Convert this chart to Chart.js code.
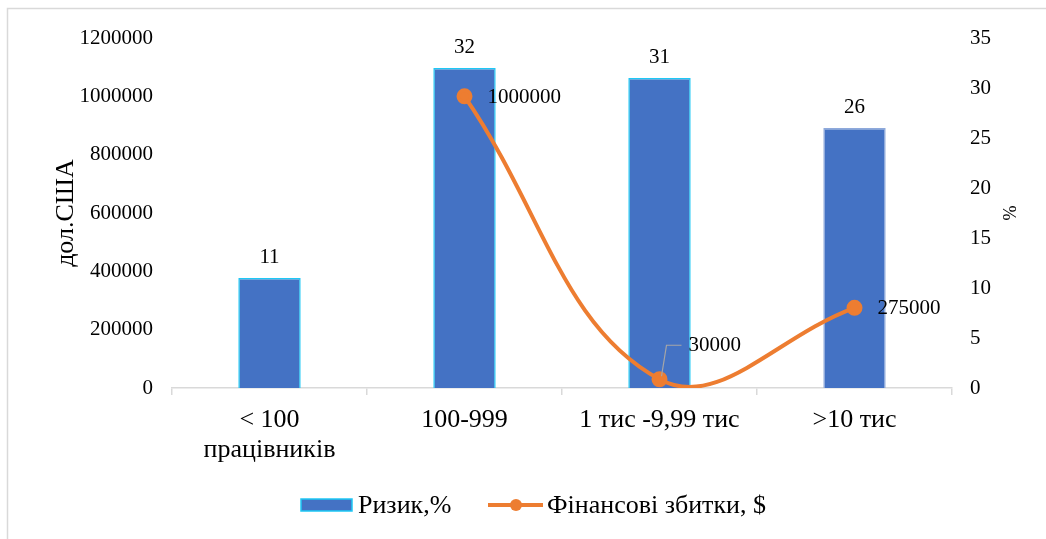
<!DOCTYPE html>
<html>
<head>
<meta charset="utf-8">
<script src="https://cdn.jsdelivr.net/npm/chart.js@4/dist/chart.umd.min.js"></script>
<style>
  html, body { margin: 0; padding: 0; background: #fff; }
  #wrap { width: 1046px; height: 539px; position: relative; }
</style>
</head>
<body>
<div id="wrap"><canvas id="c"></canvas></div>
<script>
// Company size groups
const categories = [['< 100', 'працівників'], '100-999', '1 тис -9,99 тис', '>10 тис'];
// Share of companies at risk, %
const riskPercent = [11, 32, 31, 26];
// Financial losses, USD (no value for the smallest group)
const financialLoss = [null, 1000000, 30000, 275000];
// Axis ranges: min, max, step
const lossAxisRange = [0, 1200000, 200000];
const percentAxisRange = [0, 35, 5];

const SERIF = '"Liberation Serif", "Times New Roman", serif';
const BAR_FILL = '#4472C4';
const BAR_EDGES = ['#1EC8F5', '#1EC8F5', '#1EC8F5', '#8EA9DB'];
const LINE_COLOR = '#ED7D31';

// white background and the light frame of the chart
const frame = {
  id: 'frame',
  beforeDraw(chart) {
    const ctx = chart.ctx;
    ctx.save();
    ctx.fillStyle = '#fff';
    ctx.fillRect(0, 0, chart.width, chart.height);
    ctx.strokeStyle = '#D9D9D9';
    ctx.lineWidth = 1.5;
    ctx.beginPath();
    ctx.moveTo(7.5, chart.height + 2);
    ctx.lineTo(7.5, 8.5);
    ctx.lineTo(chart.width + 2, 8.5);
    ctx.stroke();
    ctx.restore();
  }
};

// value labels above bars and beside line points
const valueLabels = {
  id: 'valueLabels',
  afterDatasetsDraw(chart) {
    const ctx = chart.ctx;
    ctx.save();
    ctx.font = '21px ' + SERIF;
    ctx.fillStyle = '#000';
    chart.data.datasets.forEach((ds, di) => {
      const meta = chart.getDatasetMeta(di);
      meta.data.forEach((el, i) => {
        const v = ds.data[i];
        if (v == null) return;
        if (ds.type === 'bar') {
          ctx.textAlign = 'center';
          ctx.textBaseline = 'bottom';
          ctx.fillText(String(v), el.x, el.y - 10);
        } else {
          ctx.textAlign = 'left';
          ctx.textBaseline = 'middle';
          if (i === 2) {
            // label lifted off the point with a leader line
            ctx.save();
            ctx.strokeStyle = '#A6A6A6';
            ctx.lineWidth = 1.2;
            ctx.beginPath();
            ctx.moveTo(el.x + 2, el.y - 3);
            ctx.lineTo(el.x + 7, el.y - 34);
            ctx.lineTo(el.x + 22, el.y - 34);
            ctx.stroke();
            ctx.restore();
            ctx.fillText(String(v), el.x + 29, el.y - 34);
          } else {
            ctx.fillText(String(v), el.x + 23, el.y + 1);
          }
        }
      });
    });
    ctx.restore();
  }
};

// legend below the axis: bar swatch and line-with-marker swatch
const bottomLegend = {
  id: 'bottomLegend',
  afterDraw(chart) {
    const ctx = chart.ctx;
    const bar = chart.data.datasets[0];
    const line = chart.data.datasets[1];
    const y = 505;
    ctx.save();
    ctx.font = '26px ' + SERIF;
    ctx.textBaseline = 'middle';
    ctx.textAlign = 'left';

    let x = 301;
    ctx.fillStyle = bar.backgroundColor;
    ctx.fillRect(x, y - 6, 51, 12);
    ctx.strokeStyle = BAR_EDGES[0];
    ctx.lineWidth = 1.5;
    ctx.strokeRect(x, y - 6, 51, 12);
    ctx.fillStyle = '#000';
    ctx.fillText(bar.label, x + 57, y + 1);

    x = 488;
    ctx.strokeStyle = line.borderColor;
    ctx.lineWidth = 4;
    ctx.beginPath();
    ctx.moveTo(x, y);
    ctx.lineTo(x + 55, y);
    ctx.stroke();
    ctx.fillStyle = line.borderColor;
    ctx.beginPath();
    ctx.arc(x + 28, y, 6, 0, Math.PI * 2);
    ctx.fill();
    ctx.fillStyle = '#000';
    ctx.fillText(line.label, x + 59, y + 1);
    ctx.restore();
  }
};

const plainNumber = v => String(v);

new Chart(document.getElementById('c'), {
  data: {
    labels: categories,
    datasets: [
      {
        type: 'bar',
        label: 'Ризик,%',
        data: riskPercent,
        yAxisID: 'yPct',
        backgroundColor: BAR_FILL,
        borderColor: BAR_EDGES,
        borderWidth: 1.5,
        categoryPercentage: 1,
        barPercentage: 0.32,
        order: 2
      },
      {
        type: 'line',
        label: 'Фінансові збитки, $',
        data: financialLoss,
        yAxisID: 'yLoss',
        borderColor: LINE_COLOR,
        backgroundColor: LINE_COLOR,
        borderWidth: 4,
        pointRadius: 6,
        pointHoverRadius: 6,
        pointBackgroundColor: LINE_COLOR,
        pointBorderColor: LINE_COLOR,
        tension: 0.4,
        spanGaps: false,
        order: 1
      }
    ]
  },
  options: {
    responsive: true,
    maintainAspectRatio: false,
    animation: false,
    devicePixelRatio: 1,
    layout: { padding: { top: 38, left: 0, right: 0, bottom: 71 } },
    elements: { line: { capBezierPoints: false } },
    plugins: {
      legend: { display: false },
      tooltip: { enabled: false }
    },
    scales: {
      x: {
        offset: true,
        afterFit(s) { s.height = 80; },
        grid: {
          display: true,
          offset: true,
          drawOnChartArea: false,
          drawTicks: true,
          tickLength: 7,
          color: '#D9D9D9',
          lineWidth: 1.5
        },
        border: { display: true, color: '#D9D9D9', width: 1.5 },
        ticks: {
          color: '#000',
          padding: 11,
          maxRotation: 0,
          autoSkip: false,
          font: { family: SERIF, size: 26, lineHeight: 1.12 }
        }
      },
      yLoss: {
        position: 'left',
        min: lossAxisRange[0],
        max: lossAxisRange[1],
        afterFit(s) { s.width = 172; },
        grid: { display: false, drawTicks: false },
        border: { display: false },
        ticks: {
          stepSize: lossAxisRange[2],
          callback: plainNumber,
          color: '#000',
          padding: 19,
          font: { family: SERIF, size: 21 }
        },
        title: {
          display: true,
          text: 'дол.США',
          color: '#000',
          padding: { top: 51, bottom: 0 },
          font: { family: SERIF, size: 26, lineHeight: 1.2 }
        }
      },
      yPct: {
        position: 'right',
        min: percentAxisRange[0],
        max: percentAxisRange[1],
        afterFit(s) { s.width = 94; },
        grid: { display: false, drawTicks: false },
        border: { display: false },
        ticks: {
          stepSize: percentAxisRange[2],
          callback: plainNumber,
          color: '#000',
          padding: 18,
          font: { family: SERIF, size: 21 }
        },
        title: {
          display: true,
          text: '%',
          color: '#000',
          padding: { top: 27, bottom: 0 },
          font: { family: SERIF, size: 18, lineHeight: 1.2 }
        }
      }
    }
  },
  plugins: [frame, valueLabels, bottomLegend]
});
</script>
</body>
</html>
